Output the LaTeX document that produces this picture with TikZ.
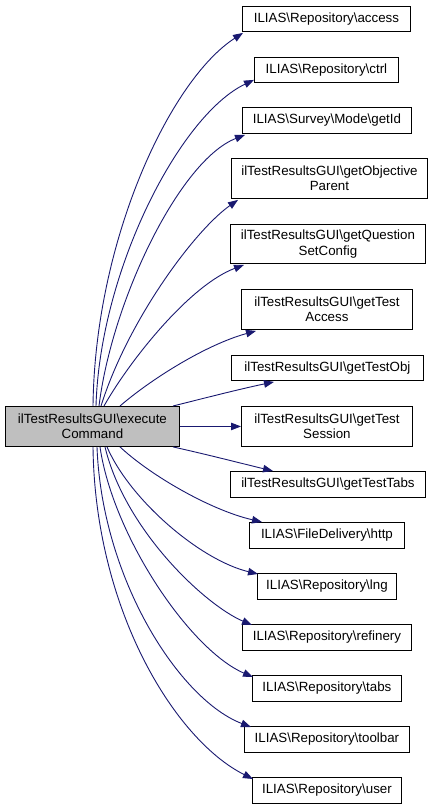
\documentclass[tikz,border=0pt]{standalone}
\usepackage{fontspec}
\setmainfont{Liberation Sans}
\usetikzlibrary{arrows.meta,calc}
\definecolor{edgeblue}{HTML}{191970}
\begin{document}
\begin{tikzpicture}[x=1pt,y=1pt,
  box/.style={draw=black,line width=0.9pt,fill=white,inner sep=0pt,anchor=north west,align=center,
    font=\fontsize{13.33}{15.5}\selectfont},
  mainbox/.style={box,fill=black!25},
  edge/.style={draw=edgeblue,line width=0.9pt,-{Triangle[length=10pt,width=7.5pt]},fill=none},
]
\useasboundingbox (0,0) rectangle (432,-808);
\def\bx#1#2#3#4#5#6{\node[box,minimum width=#4-#2,minimum height=#5-#3] (#1) at (#2,-#3) {#6};}
\node[mainbox,minimum width=174,minimum height=40] (main) at (5,-406) {ilTestResultsGUI\textbackslash execute\\Command};
\bx{access}{242}{6}{410}{31}{ILIAS\textbackslash Repository\textbackslash access}
\bx{ctrl}{254}{57}{398}{82}{ILIAS\textbackslash Repository\textbackslash ctrl}
\bx{getid}{242}{107}{411}{133}{ILIAS\textbackslash Survey\textbackslash Mode\textbackslash getId}
\bx{objp}{231}{158}{427}{198}{ilTestResultsGUI\textbackslash getObjective\\Parent}
\bx{qsc}{230}{224}{425}{263}{ilTestResultsGUI\textbackslash getQuestion\\SetConfig}
\bx{tacc}{241}{289}{412}{329}{ilTestResultsGUI\textbackslash getTest\\Access}
\bx{tobj}{231}{355}{423}{380}{ilTestResultsGUI\textbackslash getTestObj}
\bx{tses}{241}{406}{412}{446}{ilTestResultsGUI\textbackslash getTest\\Session}
\bx{ttabs}{230}{471}{425}{497}{ilTestResultsGUI\textbackslash getTestTabs}
\bx{http}{249}{522}{404}{548}{ILIAS\textbackslash FileDelivery\textbackslash http}
\bx{lng}{257}{573}{396}{599}{ILIAS\textbackslash Repository\textbackslash lng}
\bx{refinery}{242}{624}{411}{650}{ILIAS\textbackslash Repository\textbackslash refinery}
\bx{tabs}{252}{675}{401}{701}{ILIAS\textbackslash Repository\textbackslash tabs}
\bx{toolbar}{244}{726}{409}{752}{ILIAS\textbackslash Repository\textbackslash toolbar}
\bx{user}{252}{777}{401}{803}{ILIAS\textbackslash Repository\textbackslash user}
% upward edges
\draw[edge] ($(main.north west)+(88,0)$) .. controls (95,-240) and (170,-80) .. ($(access.south west)+(1,-1)$);
\draw[edge] ($(main.north west)+(91,0)$) .. controls (100,-270) and (180,-115) .. ($(ctrl.south west)+(0,3)$);
\draw[edge] ($(main.north west)+(94,0)$) .. controls (112,-300) and (180,-160) .. ($(getid.south west)+(3,-1)$);
\draw[edge] ($(main.north west)+(96,0)$) .. controls (128,-320) and (195,-230) .. ($(objp.south west)+(7,-1)$);
\draw[edge] ($(main.north west)+(99,0)$) .. controls (130,-360) and (190,-285) .. ($(qsc.south west)+(14,-1)$);
\draw[edge] ($(main.north west)+(115,0)$) .. controls (150,-380) and (205,-345) .. ($(tacc.south west)+(15,-1)$);
\draw[edge] ($(main.north east)+(-7,0)$) .. controls (205,-398) and (240,-389) .. ($(tobj.south west)+(43,-1)$);
\draw[edge] (main.east) -- (tses.west);
% downward edges
\draw[edge] ($(main.south east)+(-7,0)$) .. controls (205,-454) and (240,-463) .. ($(ttabs.north west)+(43,0)$);
\draw[edge] ($(main.south west)+(115,0)$) .. controls (150,-475) and (210,-510) .. ($(http.north west)+(13,0)$);
\draw[edge] ($(main.south west)+(102,0)$) .. controls (130,-500) and (200,-560) .. ($(lng.north west)+(1,-1)$);
\draw[edge] ($(main.south west)+(100,0)$) .. controls (125,-530) and (205,-605) .. ($(refinery.north west)+(10,-1)$);
\draw[edge] ($(main.south west)+(95,0)$) .. controls (113,-536) and (190,-650) .. ($(tabs.north west)+(1,-2)$);
\draw[edge] ($(main.south west)+(92,0)$) .. controls (102,-580) and (180,-700) .. ($(toolbar.north west)+(7,-1)$);
\draw[edge] ($(main.south west)+(88,0)$) .. controls (95,-610) and (175,-740) .. ($(user.north west)+(1,-2)$);
\end{tikzpicture}
\end{document}
